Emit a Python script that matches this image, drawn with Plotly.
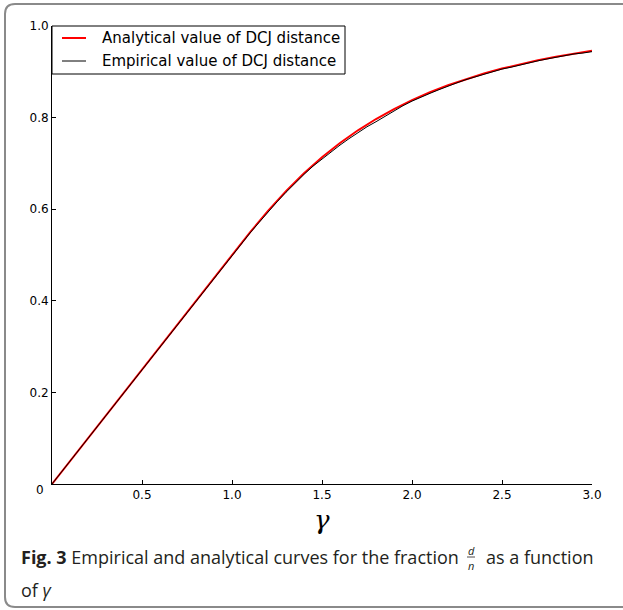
import plotly.graph_objects as go

# ---- data ----
gamma_analytical = [0.0, 0.5, 1.0, 1.1, 1.2, 1.3, 1.4, 1.5, 1.6, 1.7, 1.8, 1.9, 2.0,
                    2.1, 2.2, 2.3, 2.4, 2.5, 2.6, 2.7, 2.8, 2.9, 3.0]
dn_analytical = [0.0, 0.25, 0.5, 0.5495, 0.5963, 0.6394, 0.6784, 0.7134, 0.7445, 0.7723,
                 0.7969, 0.8187, 0.8381, 0.8553, 0.8706, 0.8842, 0.8963, 0.9070, 0.9166,
                 0.9252, 0.9328, 0.9397, 0.9458]

gamma_empirical = [0.0, 0.5, 1.0, 1.05, 1.1, 1.15, 1.2, 1.25, 1.3, 1.35, 1.4, 1.45, 1.5,
                   1.55, 1.6, 1.65, 1.7, 1.75, 1.8, 1.85, 1.9, 1.95, 2.0, 2.05, 2.1, 2.15,
                   2.2, 2.25, 2.3, 2.35, 2.4, 2.45, 2.5, 2.55, 2.6, 2.65, 2.7, 2.75, 2.8,
                   2.85, 2.9, 2.95, 3.0]
dn_empirical = [0.0, 0.25, 0.499, 0.524, 0.548, 0.571, 0.594, 0.616, 0.637, 0.657, 0.676,
                0.694, 0.710, 0.725, 0.740, 0.754, 0.767, 0.780, 0.791, 0.803, 0.815,
                0.826, 0.836, 0.845, 0.853, 0.861, 0.869, 0.876, 0.883, 0.889, 0.895,
                0.900, 0.906, 0.910, 0.915, 0.920, 0.924, 0.928, 0.932, 0.935, 0.939,
                0.941, 0.944]

series_names = ["Analytical value of DCJ distance", "Empirical value of DCJ distance"]
series_colors = ["#ff0000", "#000000"]
series_widths = [2, 1]

x_tickvals = [0.5, 1.0, 1.5, 2.0, 2.5, 3.0]
x_ticktext = ["0.5", "1.0", "1.5", "2.0", "2.5", "3.0"]
y_tickvals = [0.0, 0.2, 0.4, 0.6, 0.8, 1.0]
y_ticktext = ["", "0.2", "0.4", "0.6", "0.8", "1.0"]

# ---- layout geometry (pixels) ----
W, H = 623, 610
L, R, T, B = 52, 592, 26, 484


def px(x):
    return (x - L) / (R - L)


def py(y):
    return (B - y) / (B - T)


fig = go.Figure()
for xs, ys, name, col, w in zip([gamma_analytical, gamma_empirical],
                                [dn_analytical, dn_empirical],
                                series_names, series_colors, series_widths):
    fig.add_trace(go.Scatter(x=xs, y=ys, mode="lines",
                             line=dict(color=col, width=w), name=name))

tickfont = dict(family="DejaVu Sans", size=12, color="#000000")

fig.update_layout(
    width=W, height=H,
    margin=dict(l=L, r=W - R, t=T, b=H - B, pad=0),
    paper_bgcolor="white", plot_bgcolor="white",
    showlegend=False,
    xaxis=dict(range=[0, 3], showgrid=False, zeroline=False,
               showline=True, linecolor="#000000", linewidth=1,
               ticks="inside", ticklen=4, tickcolor="#000000",
               tickvals=x_tickvals, ticktext=x_ticktext, tickfont=tickfont),
    yaxis=dict(range=[0, 1], showgrid=False, zeroline=False,
               showline=True, linecolor="#000000", linewidth=1,
               ticks="inside", ticklen=4, tickcolor="#000000",
               tickvals=y_tickvals, ticktext=y_ticktext, tickfont=tickfont),
)

# legend box (drawn by hand to match the reference's placement)
fig.add_shape(type="rect", xref="paper", yref="paper",
              x0=px(52), x1=px(345), y0=py(74), y1=py(26),
              line=dict(color="#000000", width=1), fillcolor="white", layer="above")
for i, (name, col, w) in enumerate(zip(series_names, series_colors, series_widths)):
    yy = 38 + 23 * i
    fig.add_shape(type="line", xref="paper", yref="paper",
                  x0=px(62), x1=px(86), y0=py(yy), y1=py(yy),
                  line=dict(color=col, width=w), layer="above")
    fig.add_annotation(x=px(100), y=py(yy), xref="paper", yref="paper",
                       text=name, showarrow=False,
                       font=dict(family="DejaVu Sans", size=15, color="#000000"),
                       xanchor="left", yanchor="middle")

# origin label
fig.add_annotation(x=px(40), y=py(490), xref="paper", yref="paper",
                   text="0", showarrow=False, font=tickfont,
                   xanchor="center", yanchor="middle")

# x-axis title
fig.add_annotation(x=px(322), y=py(520), xref="paper", yref="paper",
                   text="<i>γ</i>", showarrow=False,
                   font=dict(family="DejaVu Serif", size=26, color="#000000"),
                   xanchor="center", yanchor="middle")

# caption
capfont = dict(family="Open Sans", size=18, color="#231f20")
fig.add_annotation(x=px(19), y=py(557), xref="paper", yref="paper",
                   text="<b>Fig. 3</b> Empirical and analytical curves for the fraction",
                   showarrow=False, font=capfont, xanchor="left", yanchor="middle")
fig.add_annotation(x=px(471), y=py(550), xref="paper", yref="paper",
                   text="<i>d</i>", showarrow=False,
                   font=dict(family="Open Sans", size=11, color="#231f20"),
                   xanchor="center", yanchor="middle")
fig.add_annotation(x=px(471), y=py(565), xref="paper", yref="paper",
                   text="<i>n</i>", showarrow=False,
                   font=dict(family="Open Sans", size=11, color="#231f20"),
                   xanchor="center", yanchor="middle")
fig.add_shape(type="line", xref="paper", yref="paper",
              x0=px(467), x1=px(475), y0=py(557), y1=py(557),
              line=dict(color="#231f20", width=0.8))
fig.add_annotation(x=px(484), y=py(557), xref="paper", yref="paper",
                   text="as a function", showarrow=False, font=capfont,
                   xanchor="left", yanchor="middle")
fig.add_annotation(x=px(19), y=py(590), xref="paper", yref="paper",
                   text="of <i>γ</i>", showarrow=False, font=capfont,
                   xanchor="left", yanchor="middle")

# outer rounded frame
x0, y0, x1, y1, r = 5, 4, 660, 607, 10
path = (f"M {px(x0 + r)},{py(y0)} L {px(x1)},{py(y0)} "
        f"M {px(x1)},{py(y1)} L {px(x0 + r)},{py(y1)} "
        f"Q {px(x0)},{py(y1)} {px(x0)},{py(y1 - r)} "
        f"L {px(x0)},{py(y0 + r)} "
        f"Q {px(x0)},{py(y0)} {px(x0 + r)},{py(y0)}")
fig.add_shape(type="path", xref="paper", yref="paper", path=path,
              line=dict(color="#8a8a8a", width=2))

fig.write_html("out.html")
